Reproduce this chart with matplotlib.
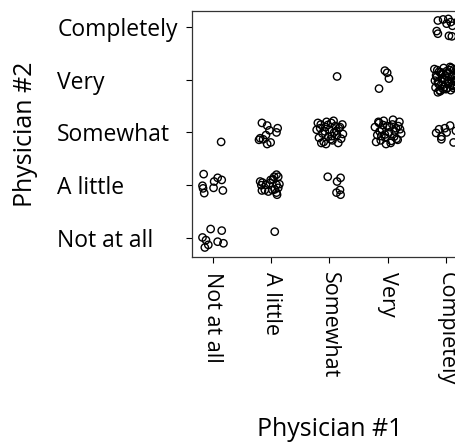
import matplotlib.pyplot as plt

plt.rcParams['font.family'] = ['Open Sans', 'DejaVu Sans']

# Rating scale shared by both physicians
levels = ['Not at all', 'A little', 'Somewhat', 'Very', 'Completely']

# Jittered ratings (Physician #1 on x, Physician #2 on y), grouped by cell
# Not at all / Not at all
x_na_na = [0.82, 0.88, 0.86, 0.92, 0.96, 1.15, 1.08, 1.18]
y_na_na = [1.01, 0.96, 0.82, 0.87, 1.17, 1.14, 0.93, 0.90]
# Not at all / A little
x_na_al = [0.84, 0.82, 0.83, 0.85, 1.02, 1.01, 1.08, 1.15, 1.17]
y_na_al = [2.21, 1.99, 1.94, 1.85, 2.07, 1.95, 2.14, 2.10, 1.90]
# Not at all / Somewhat
x_na_sw = [1.14]
y_na_sw = [2.82]
# A little / Not at all
x_al_na = [2.06]
y_al_na = [1.12]
# A little / A little
x_al_al = [1.81, 1.85, 1.84, 1.91, 1.95, 1.99, 2.03, 2.09, 2.12, 2.09, 2.14,
           2.06, 2.09, 2.10, 2.02, 1.98, 1.89, 2.05, 1.83, 2.12]
y_al_al = [2.07, 2.05, 1.90, 2.01, 1.88, 2.10, 2.11, 2.20, 2.16, 2.01, 2.02,
           1.92, 1.86, 1.82, 1.91, 2.04, 1.91, 2.16, 2.00, 1.95]
# A little / Somewhat
x_al_sw = [1.84, 1.93, 2.11, 2.09, 1.97, 1.91, 1.81, 1.79, 1.86, 1.93, 1.99]
y_al_sw = [3.18, 3.13, 3.08, 3.00, 3.04, 2.95, 2.89, 2.86, 2.87, 2.78, 2.81]
# Somewhat / A little
x_sw_al = [2.97, 3.13, 3.19, 3.12, 3.18, 3.19]
y_sw_al = [2.16, 2.07, 2.14, 1.86, 1.91, 1.82]
# Somewhat / Somewhat
x_sw_sw = [2.78, 2.82, 2.85, 2.88, 2.90, 2.93, 2.95, 2.98, 3.00, 3.03,
           3.05, 3.08, 3.10, 3.13, 3.16, 3.20, 3.23, 2.80, 2.86, 2.92,
           2.97, 3.02, 3.07, 3.12, 3.18, 2.84, 2.94, 3.04, 3.15, 3.22]
y_sw_sw = [3.05, 2.90, 3.15, 2.98, 2.82, 3.10, 3.20, 2.92, 3.05, 3.18,
           2.85, 3.00, 3.12, 2.95, 3.08, 2.88, 2.97, 3.18, 2.80, 3.02,
           3.14, 2.87, 3.22, 3.03, 3.10, 3.08, 2.78, 2.93, 2.80, 3.15]
# Somewhat / Very
x_sw_v = [3.13]
y_sw_v = [4.06]
# Very / Very
x_v_v = [3.95, 3.99, 4.02, 3.85]
y_v_v = [4.17, 4.13, 4.02, 3.83]
# Very / Somewhat
x_v_sw = [3.78, 3.82, 3.85, 3.88, 3.90, 3.93, 3.96, 3.99, 4.02, 4.05,
          4.08, 4.11, 4.14, 4.17, 4.20, 4.23, 3.80, 3.86, 3.92, 3.97,
          4.03, 4.09, 4.15, 4.21, 3.84, 3.95, 4.06, 4.18, 3.89, 4.12]
y_v_sw = [3.10, 2.95, 3.18, 2.85, 3.05, 3.22, 2.90, 3.12, 3.00, 2.80,
          3.15, 2.92, 3.08, 2.86, 3.20, 2.98, 2.82, 3.02, 3.14, 2.78,
          3.10, 3.24, 2.88, 3.06, 3.20, 2.96, 2.84, 3.12, 2.93, 3.02]
# Completely / Completely
x_c_c = [4.86, 4.95, 5.04, 5.08, 5.11, 5.01, 4.84, 4.86, 5.05, 5.10, 5.20, 5.24]
y_c_c = [5.12, 5.14, 5.15, 5.09, 5.02, 5.06, 4.92, 4.87, 4.83, 4.82, 5.10, 4.95]
# Completely / Very
x_c_v = [4.80, 4.82, 4.84, 4.86, 4.88, 4.90, 4.92, 4.94, 4.96, 4.98,
         5.00, 5.02, 5.04, 5.06, 5.08, 5.10, 5.12, 5.14, 5.16, 5.18,
         4.81, 4.85, 4.89, 4.93, 4.97, 5.01, 5.05, 5.09, 5.13, 5.17,
         4.83, 4.87, 4.91, 4.95, 4.99, 5.03, 5.07, 5.11, 5.15, 5.19,
         4.86, 4.94, 5.02, 5.10, 5.20]
y_c_v = [4.20, 3.85, 4.05, 3.95, 4.15, 3.78, 4.10, 3.90, 4.22, 4.00,
         3.82, 4.12, 3.92, 4.18, 3.80, 4.06, 3.88, 4.20, 3.96, 4.10,
         3.98, 4.18, 3.80, 4.02, 3.86, 4.16, 3.94, 4.22, 3.84, 4.00,
         4.08, 3.92, 4.14, 3.82, 4.08, 3.98, 4.24, 3.90, 4.04, 3.86,
         3.76, 4.12, 3.84, 3.98, 4.16]
# Completely / Somewhat
x_c_sw = [4.83, 4.88, 4.98, 5.07, 4.92, 5.01, 4.92, 5.13, 5.17]
y_c_sw = [2.99, 3.06, 3.08, 3.13, 2.92, 3.00, 2.87, 2.81, 3.03]

xs = (x_na_na + x_na_al + x_na_sw + x_al_na + x_al_al + x_al_sw + x_sw_al
      + x_sw_sw + x_sw_v + x_v_v + x_v_sw + x_c_c + x_c_v + x_c_sw)
ys = (y_na_na + y_na_al + y_na_sw + y_al_na + y_al_al + y_al_sw + y_sw_al
      + y_sw_sw + y_sw_v + y_v_v + y_v_sw + y_c_c + y_c_v + y_c_sw)

fig = plt.figure(figsize=(4.56, 4.45), dpi=100)
# axes box runs past the right edge of the figure
ax = fig.add_axes([192 / 456, 1 - 257 / 445, 275 / 456, 246 / 445])

ax.scatter(xs, ys, s=28, facecolors='none', edgecolors='black',
           linewidths=1.0, clip_on=False)

ax.set_xlim(0.64, 5.36)
ax.set_ylim(0.64, 5.30)
ticks = [1, 2, 3, 4, 5]
ax.set_xticks(ticks)
ax.set_yticks(ticks)
ax.set_xticklabels(levels, rotation=270, va='top', ha='center', fontsize=15.5)
ax.set_yticklabels(levels, ha='left', fontsize=16.5)
ax.tick_params(axis='x', length=4, width=0.8, pad=7)
ax.tick_params(axis='y', length=4, width=0.8, pad=93)

for side in ['left', 'bottom', 'top']:
    ax.spines[side].set_linewidth(0.9)
    ax.spines[side].set_color('#333333')
ax.spines['right'].set_visible(False)

ax.set_xlabel('Physician #1', fontsize=18, labelpad=23)
ax.set_ylabel('Physician #2', fontsize=18, labelpad=14)

fig.savefig('out.png', dpi=100)
